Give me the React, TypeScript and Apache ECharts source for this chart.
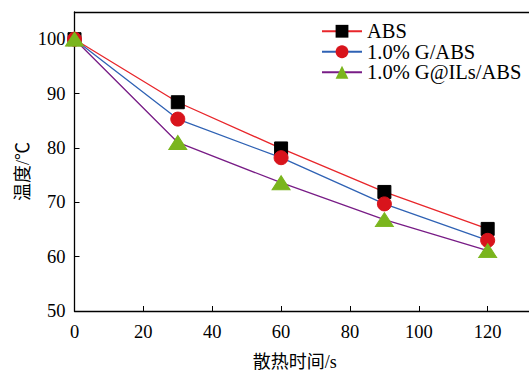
import React, { useEffect, useRef } from "react";
import * as echarts from "echarts";

const times = [0, 30, 60, 90, 120];
const absTemp = [100, 88.4, 79.9, 71.9, 65.1];
const gAbsTemp = [100, 85.3, 78.2, 69.7, 63.0];
const gIlsAbsTemp = [100, 81.0, 73.6, 66.8, 61.1];
const seriesNames = ["ABS", "1.0% G/ABS", "1.0% G@ILs/ABS"];
const xTicks = [0, 20, 40, 60, 80, 100, 120];
const yTicks = [50, 60, 70, 80, 90, 100];

const serif = "'Liberation Serif', 'Times New Roman', 'Noto Sans CJK SC', serif";

export default function App() {
  const ref = useRef<HTMLDivElement>(null);
  useEffect(() => {
    if (!ref.current) return;
    const chart = echarts.init(ref.current, undefined, { renderer: "svg" });
    const pair = (ys: number[]) => times.map((t, i) => [t, ys[i]]);
    chart.setOption({
      animation: false,
      backgroundColor: "#fff",
      grid: { left: 74.5, top: 12, width: 456, height: 302 },
      legend: {
        left: 316,
        top: 16,
        orient: "vertical",
        itemWidth: 40,
        itemHeight: 16,
        itemGap: 0,
        textStyle: { fontFamily: serif, fontSize: 20.5, lineHeight: 20, color: "#000", padding: [0, 0, 0, 0] },
        data: seriesNames,
      },
      xAxis: [
        {
          type: "value",
          min: 0,
          max: 132,
          interval: 20,
          name: "散热时间/s",
          nameLocation: "middle",
          nameGap: 42,
          nameMoveOverlap: false,
          nameTextStyle: {
            fontFamily: serif,
            fontSize: 18,
            color: "#000",
            padding: [0, 14, 0, 0],
          },
          axisLine: { lineStyle: { color: "#000", width: 1.3 } },
          axisTick: { inside: true, length: 5, customValues: xTicks, lineStyle: { color: "#000" } },
          axisLabel: {
            fontFamily: serif,
            fontSize: 18.5,
            color: "#000",
            margin: 12,
            customValues: xTicks,
          },
          splitLine: { show: false },
        },
        {
          type: "value",
          position: "top",
          min: 0,
          max: 132,
          axisLine: { show: true, lineStyle: { color: "#000", width: 1.3 } },
          axisTick: { show: false },
          axisLabel: { show: false },
          splitLine: { show: false },
        },
      ],
      yAxis: {
        type: "value",
        min: 50,
        max: 105,
        interval: 10,
        name: "温度/℃",
        nameLocation: "middle",
        nameGap: 43,
        nameMoveOverlap: false,
        nameTextStyle: {
          fontFamily: serif,
          fontSize: 18,
          color: "#000",
          padding: [0, 20, 0, 0],
        },
        axisLine: { show: true, lineStyle: { color: "#000", width: 1.3 } },
        axisTick: { inside: true, length: 5, customValues: yTicks, lineStyle: { color: "#000" } },
        axisLabel: {
          fontFamily: serif,
          fontSize: 18.5,
          color: "#000",
          margin: 9,
          customValues: yTicks,
        },
        splitLine: { show: false },
      },
      series: [
        {
          name: seriesNames[0],
          type: "line",
          data: pair(absTemp),
          symbol: "rect",
          symbolSize: 13,
          lineStyle: { color: "#e8262b", width: 1.3 },
          itemStyle: { color: "#000", borderColor: "#000" },
          z: 4,
        },
        {
          name: seriesNames[1],
          type: "line",
          data: pair(gAbsTemp),
          symbol: "circle",
          symbolSize: 14,
          lineStyle: { color: "#2f62b4", width: 1.3 },
          itemStyle: { color: "#d8141c", borderColor: "#d8141c" },
          z: 5,
        },
        {
          name: seriesNames[2],
          type: "line",
          data: pair(gIlsAbsTemp),
          symbol: "triangle",
          symbolSize: [18, 14],
          lineStyle: { color: "#781c86", width: 1.3 },
          itemStyle: { color: "#7ab51d", borderColor: "#7ab51d" },
          z: 6,
        },
      ],
    });
    return () => chart.dispose();
  }, []);
  return <div ref={ref} style={{ width: 529, height: 376, position: "fixed", left: 0, top: 0 }} />;
}
